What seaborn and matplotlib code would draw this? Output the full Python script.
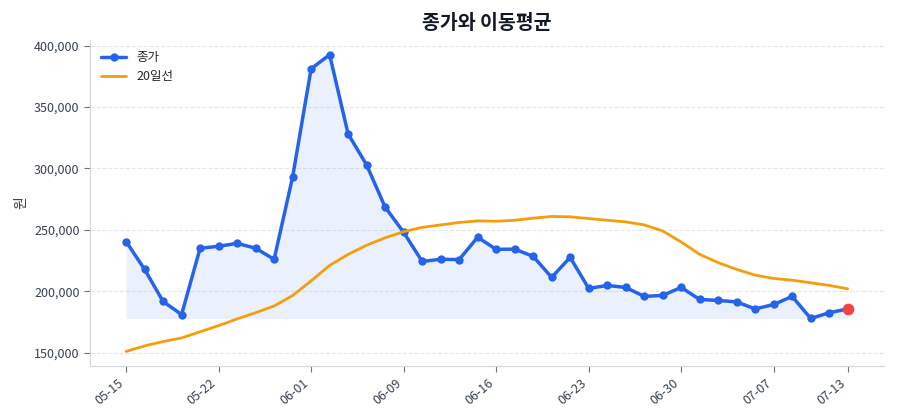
import matplotlib
matplotlib.use("Agg")
import numpy as np
import pandas as pd
import matplotlib.pyplot as plt
import seaborn as sns
from matplotlib.ticker import FuncFormatter

# date labels (trading days, only every 5th shown)
dates = ['05-15', '05-16', '05-19', '05-20', '05-21', '05-22', '05-23', '05-26', '05-27', '05-28',
         '06-01', '06-02', '06-04', '06-05', '06-08', '06-09', '06-10', '06-11', '06-12', '06-13',
         '06-16', '06-17', '06-18', '06-19', '06-20', '06-23', '06-24', '06-25', '06-26', '06-27',
         '06-30', '07-01', '07-02', '07-03', '07-04', '07-07', '07-08', '07-09', '07-10', '07-13']

close = [240500, 217800, 191700, 181000, 235000, 236600, 239000, 235000, 226000, 293000,
         381200, 392600, 328100, 302800, 268500, 248000, 224300, 226000, 225800, 244000,
         234100, 234300, 228400, 211300, 227600, 202300, 204700, 203100, 195800, 196600,
         203100, 193300, 192500, 191300, 185600, 189200, 195800, 177800, 182500, 185600]

ma20 = [151000, 155500, 159000, 162000, 167000, 172000, 177500, 182500, 188000, 196500,
        208500, 221000, 230000, 237500, 243500, 248500, 252000, 254000, 256000, 257300,
        257000, 257800, 259500, 260900, 260600, 259200, 257800, 256500, 254000, 249100,
        240100, 230000, 223300, 217800, 213100, 210400, 209000, 206900, 204700, 202000]

tick_idx = [0, 5, 10, 15, 20, 25, 30, 35, 39]

df = pd.DataFrame({'idx': np.arange(len(dates)), 'date': dates, 'close': close, 'ma20': ma20})

sns.set_style("white")
plt.rcParams['font.family'] = ['Noto Sans CJK KR', 'DejaVu Sans']

blue = '#2563eb'
orange = '#f59e0b'
red = '#ef4444'

fig, ax = plt.subplots(figsize=(9, 4.2), dpi=100)

ax.fill_between(df['idx'], df['close'], df['close'].min(), color=blue, alpha=0.09, linewidth=0)
sns.lineplot(data=df, x='idx', y='close', ax=ax, color=blue, linewidth=2.5,
             marker='o', markersize=6, markeredgewidth=0, label='종가')
sns.lineplot(data=df, x='idx', y='ma20', ax=ax, color=orange, linewidth=2, label='20일선')
ax.scatter(df['idx'].iloc[-1], df['close'].iloc[-1], s=55, color=red, zorder=5)

ax.set_xticks(tick_idx)
ax.set_xticklabels([dates[i] for i in tick_idx], rotation=40, ha='right', fontsize=9, color='#374151')
ax.yaxis.set_major_formatter(FuncFormatter(lambda v, p: f'{int(v):,}'))
ax.tick_params(axis='y', labelsize=9, labelcolor='#374151')
ax.tick_params(axis='both', length=4, color='#6b7280', left=True, bottom=True)

ax.set_title('종가와 이동평균', fontsize=14, fontweight='bold', color='#111827', pad=8)
ax.set_xlabel('')
ax.set_ylabel('원', fontsize=10, color='#374151')

ax.grid(axis='y', linestyle='--', color='#e5e7eb', linewidth=0.8)
ax.set_axisbelow(True)
sns.despine(ax=ax)
for s in ['left', 'bottom']:
    ax.spines[s].set_color('#d1d5db')

ax.legend(loc='upper left', frameon=False, fontsize=9)

plt.subplots_adjust(left=0.1, right=0.982, top=0.905, bottom=0.128)
plt.savefig('out.png', dpi=100)
